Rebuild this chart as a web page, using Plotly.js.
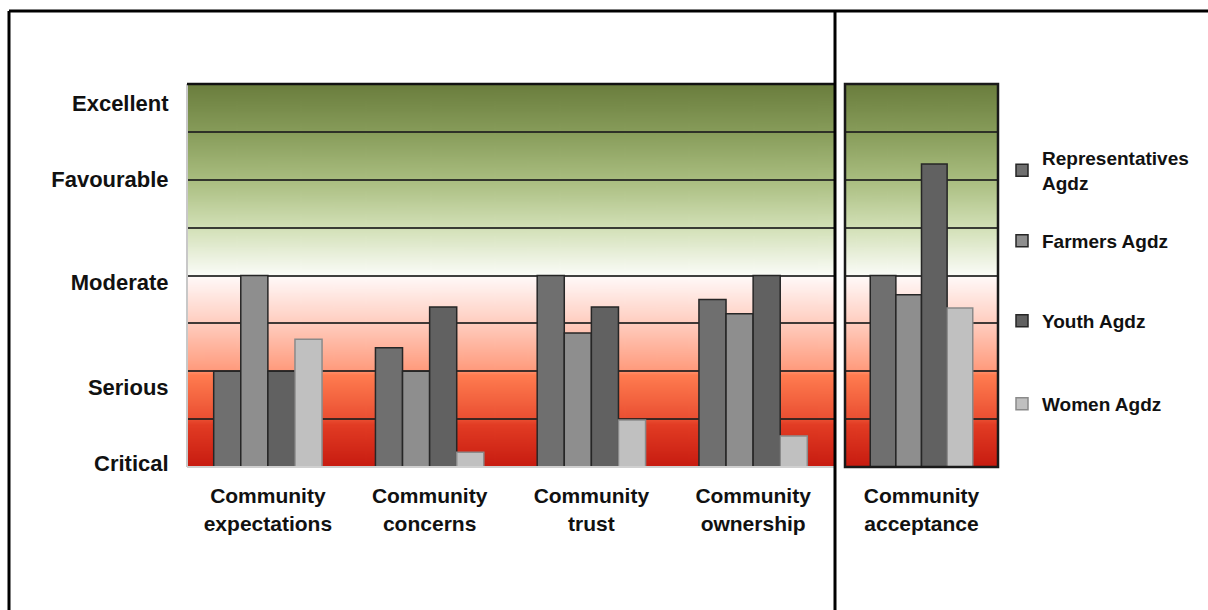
<!DOCTYPE html>
<html>
<head>
<meta charset="utf-8">
<script src="https://cdn.plot.ly/plotly-3.0.1.min.js"></script>
<style>html,body{margin:0;padding:0;background:#fff;}#chart{width:1208px;height:610px;}</style>
</head>
<body>
<div id="chart"></div>
<script>
// ---- data ----
var categoriesLeft = ["Community<br>expectations", "Community<br>concerns", "Community<br>trust", "Community<br>ownership"];
var categoriesRight = ["Community<br>acceptance"];
var seriesNames = ["Representatives<br>Agdz", "Farmers Agdz", "Youth Agdz", "Women Agdz"];
var representatives = [2.0, 2.49, 4.0, 3.5];
var farmers         = [4.0, 2.0, 2.8, 3.2];
var youth           = [2.0, 3.34, 3.34, 4.0];
var women           = [2.67, 0.31, 0.98, 0.65];
var acceptanceRepresentatives = [4.0];
var acceptanceFarmers = [3.6];
var acceptanceYouth = [6.33];
var acceptanceWomen = [3.32];
var levelLabels = ["Critical", "Serious", "Moderate", "Favourable", "Excellent"];
var levelPositions = [0.08, 1.67, 3.86, 6.0, 7.6];
var gridLevels = [1, 2, 3, 4, 5, 6, 7];

// ---- styles ----
var fills = ["#6f6f6f", "#8e8e8e", "#616161", "#c0c0c0"];
var outlines = ["#262626", "#262626", "#262626", "#8a8a8a"];
var FONT = "Liberation Sans, Arial, Helvetica, sans-serif";

// background gradient
function makeGradient() {
  var c = document.createElement("canvas");
  c.width = 20; c.height = 800;
  var ctx = c.getContext("2d");
  var g1 = ctx.createLinearGradient(0, 0, 0, 400);
  g1.addColorStop(0.0, "#6a7d3d");
  g1.addColorStop(0.25, "#879c5a");
  g1.addColorStop(0.5, "#a9bd7f");
  g1.addColorStop(0.75, "#d2e0b6");
  g1.addColorStop(1.0, "#fbfcf8");
  ctx.fillStyle = g1; ctx.fillRect(0, 0, 20, 400);
  var g2 = ctx.createLinearGradient(0, 400, 0, 800);
  g2.addColorStop(0.0, "#fffafa");
  g2.addColorStop(0.25, "#ffcdbf");
  g2.addColorStop(0.49, "#ff9c7e");
  g2.addColorStop(0.52, "#ff7c50");
  g2.addColorStop(0.75, "#ea4f32");
  g2.addColorStop(0.78, "#e23c24");
  g2.addColorStop(1.0, "#c71b10");
  ctx.fillStyle = g2; ctx.fillRect(0, 400, 20, 400);
  return c.toDataURL("image/png");
}
var bg = makeGradient();

var W = 1208, H = 610;
var legendIds = ["legend", "legend2", "legend3", "legend4"];
var legendTops = [139, 222, 302, 385];

var traces = [];
var leftVals = [representatives, farmers, youth, women];
var rightVals = [acceptanceRepresentatives, acceptanceFarmers, acceptanceYouth, acceptanceWomen];
for (var i = 0; i < 4; i++) {
  traces.push({
    type: "bar", x: categoriesLeft, y: leftVals[i], name: seriesNames[i],
    xaxis: "x", yaxis: "y", legendgroup: "g" + i, legend: legendIds[i],
    marker: {color: fills[i], line: {color: outlines[i], width: 1.5}},
    hoverinfo: "y"
  });
}
for (var j = 0; j < 4; j++) {
  traces.push({
    type: "bar", x: categoriesRight, y: rightVals[j], name: seriesNames[j],
    xaxis: "x2", yaxis: "y2", legendgroup: "g" + j, showlegend: false,
    marker: {color: fills[j], line: {color: outlines[j], width: 1.5}},
    hoverinfo: "y"
  });
}

var xL = [187 / W, 834 / W];
var xR = [845 / W, 998 / W];
var yD = [1 - 467 / H, 1 - 84 / H];

var yCommon = {
  range: [0, 8], fixedrange: true, zeroline: false, showgrid: false, showline: false,
  minor: {tickvals: gridLevels, showgrid: true, gridcolor: "rgba(30,30,30,0.85)", gridwidth: 2, ticks: ""}
};

function legendCfg(k) {
  return {x: 1002 / W, y: 1 - legendTops[k] / H, xanchor: "left", yanchor: "top",
          bgcolor: "rgba(0,0,0,0)", itemwidth: 30,
          font: {family: FONT, size: 19, color: "#111", weight: "bold"}};
}

var layout = {
  width: W, height: H,
  margin: {l: 0, r: 0, t: 0, b: 0},
  paper_bgcolor: "#ffffff", plot_bgcolor: "rgba(0,0,0,0)",
  barmode: "group", bargap: 0.33, bargroupgap: 0,
  showlegend: true,
  font: {family: FONT, color: "#111", size: 20},
  xaxis: {domain: xL, anchor: "y", showgrid: false, showline: false, zeroline: false, fixedrange: true,
          ticks: "outside", ticklen: 10, tickcolor: "rgba(0,0,0,0)",
          tickfont: {family: FONT, size: 21, color: "#111", weight: "bold"}},
  xaxis2: {domain: xR, anchor: "y2", showgrid: false, showline: false, zeroline: false, fixedrange: true,
           ticks: "outside", ticklen: 10, tickcolor: "rgba(0,0,0,0)",
           tickfont: {family: FONT, size: 21, color: "#111", weight: "bold"}},
  yaxis: Object.assign({}, yCommon, {domain: yD, anchor: "x",
          tickvals: levelPositions, ticktext: levelLabels,
          ticks: "outside", ticklen: 13, tickcolor: "rgba(0,0,0,0)",
          tickfont: {family: FONT, size: 22, color: "#111", weight: "bold"}}),
  yaxis2: Object.assign({}, yCommon, {domain: yD, anchor: "x2", showticklabels: false, ticks: ""}),
  legend: legendCfg(0),
  legend2: legendCfg(1),
  legend3: legendCfg(2),
  legend4: legendCfg(3),
  images: [
    {source: bg, xref: "paper", yref: "paper", x: xL[0], y: yD[1], sizex: xL[1] - xL[0], sizey: yD[1] - yD[0],
     sizing: "stretch", layer: "below", xanchor: "left", yanchor: "top"},
    {source: bg, xref: "paper", yref: "paper", x: xR[0], y: yD[1], sizex: xR[1] - xR[0], sizey: yD[1] - yD[0],
     sizing: "stretch", layer: "below", xanchor: "left", yanchor: "top"}
  ],
  shapes: [
    // left plot frame
    {type: "line", xref: "x domain", yref: "y domain", x0: 0, x1: 0, y0: 0, y1: 1, line: {color: "#c8c8c8", width: 2}},
    {type: "line", xref: "x domain", yref: "y domain", x0: 0, x1: 1, y0: 0, y1: 0, line: {color: "#d0d0d0", width: 2}},
    {type: "line", xref: "x domain", yref: "y domain", x0: 0, x1: 1, y0: 1, y1: 1, line: {color: "#111", width: 2.5}},
    // right plot frame
    {type: "rect", xref: "x2 domain", yref: "y2 domain", x0: 0, x1: 1, y0: 0, y1: 1, line: {color: "#1a1a1a", width: 2.5}},
    // outer frame and divider
    {type: "line", xref: "paper", yref: "paper", x0: 9 / W, x1: 1, y0: 1 - 11 / H, y1: 1 - 11 / H, line: {color: "#000", width: 3}},
    {type: "line", xref: "paper", yref: "paper", x0: 9 / W, x1: 9 / W, y0: 1 - 11 / H, y1: 0, line: {color: "#000", width: 3}},
    {type: "line", xref: "paper", yref: "paper", x0: 835 / W, x1: 835 / W, y0: 1 - 11 / H, y1: 0, line: {color: "#000", width: 3}}
  ]
};

Plotly.newPlot("chart", traces, layout, {displayModeBar: false, staticPlot: true});
</script>
</body>
</html>
